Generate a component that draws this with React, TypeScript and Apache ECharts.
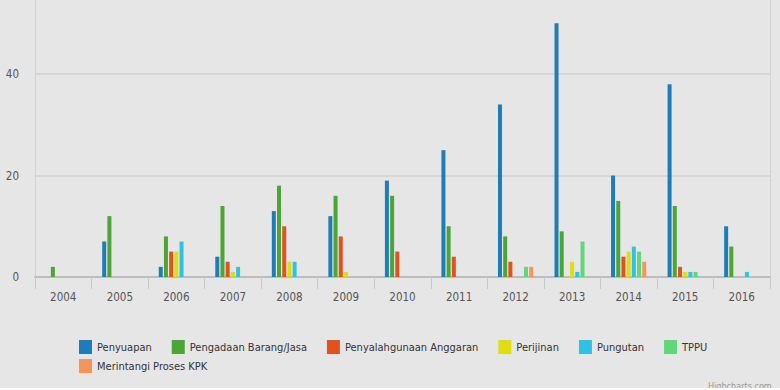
import React, { useEffect, useRef } from "react";
import * as echarts from "echarts";

const years = ["2004", "2005", "2006", "2007", "2008", "2009", "2010", "2011", "2012", "2013", "2014", "2015", "2016"];
const seriesNames = ["Penyuapan", "Pengadaan Barang/Jasa", "Penyalahgunaan Anggaran", "Perijinan", "Pungutan", "TPPU", "Merintangi Proses KPK"];
const penyuapan = [null, 7, 2, 4, 13, 12, 19, 25, 34, 50, 20, 38, 10];
const pengadaan = [2, 12, 8, 14, 18, 16, 16, 10, 8, 9, 15, 14, 6];
const penyalahgunaan = [null, null, 5, 3, 10, 8, 5, 4, 3, null, 4, 2, null];
const perijinan = [null, null, 5, 1, 3, 1, null, null, null, 3, 5, 1, null];
const pungutan = [null, null, 7, 2, 3, null, null, null, null, 1, 6, 1, 1];
const tppu = [null, null, null, null, null, null, null, null, 2, 7, 5, 1, null];
const merintangi = [null, null, null, null, null, null, null, null, 2, null, 3, null, null];
const colors = ["#1e7cb8", "#4ba634", "#e2521f", "#dede12", "#2ec3e2", "#60d877", "#f5955a"];

const FONT = "'DejaVu Sans Condensed', sans-serif";

export default function App() {
  const ref = useRef<HTMLDivElement>(null);
  useEffect(() => {
    document.body.style.margin = "0";
    const chart = echarts.init(ref.current!, null, { renderer: "svg" });
    const data = [penyuapan, pengadaan, penyalahgunaan, perijinan, pungutan, tppu, merintangi];
    const legendBase = {
      left: 74,
      width: 700,
      itemWidth: 13,
      itemHeight: 14,
      itemGap: 20,
      icon: "rect",
      textStyle: { fontFamily: FONT, fontSize: 11, color: "#333" },
    };
    chart.setOption({
      animation: false,
      backgroundColor: "#e6e6e6",
      color: colors,
      grid: { left: 35, right: 10, top: 0, bottom: 113 },
      legend: [
        { ...legendBase, top: 335, data: seriesNames.slice(0, 6) },
        { ...legendBase, top: 354, data: seriesNames.slice(6) },
      ],
      xAxis: {
        type: "category",
        data: years,
        axisLine: { lineStyle: { color: "#bdbdbd", width: 2 } },
        axisTick: { show: true, length: 12, lineStyle: { color: "#c8c8c8", width: 1 } },
        axisLabel: { fontFamily: FONT, fontSize: 11.5, color: "#555", margin: 14 },
      },
      yAxis: [
        {
          type: "value",
          min: 0,
          max: 54.6,
          interval: 20,
          axisLine: { show: true, lineStyle: { color: "#d2d2d2", width: 1 } },
          axisTick: { show: false },
          axisLabel: { fontFamily: FONT, fontSize: 11.5, color: "#555", margin: 16, showMaxLabel: false },
          splitLine: { showMaxLine: false, lineStyle: { color: "#d6d6d6", width: 2 } },
        },
        {
          type: "value",
          position: "right",
          min: 0,
          max: 54.6,
          interval: 20,
          axisLine: { show: true, lineStyle: { color: "#d2d2d2", width: 1 } },
          axisTick: { show: false },
          axisLabel: { show: false },
          splitLine: { show: false },
        },
      ],
      series: seriesNames.map((name, i) => ({
        name,
        type: "bar",
        data: data[i],
        barWidth: 4,
        barGap: "30%",
        itemStyle: { color: colors[i] },
      })),
      graphic: [
        {
          type: "text",
          left: 708,
          top: 381,
          style: { text: "Highcharts.com", fontSize: 9, fill: "#999", fontFamily: FONT },
        },
        {
          type: "rect",
          left: 0,
          top: 388,
          shape: { width: 780, height: 2 },
          style: { fill: "#ffffff" },
          z: 100,
        },
      ],
    });
    return () => chart.dispose();
  }, []);
  return <div ref={ref} style={{ width: 780, height: 390 }} />;
}
